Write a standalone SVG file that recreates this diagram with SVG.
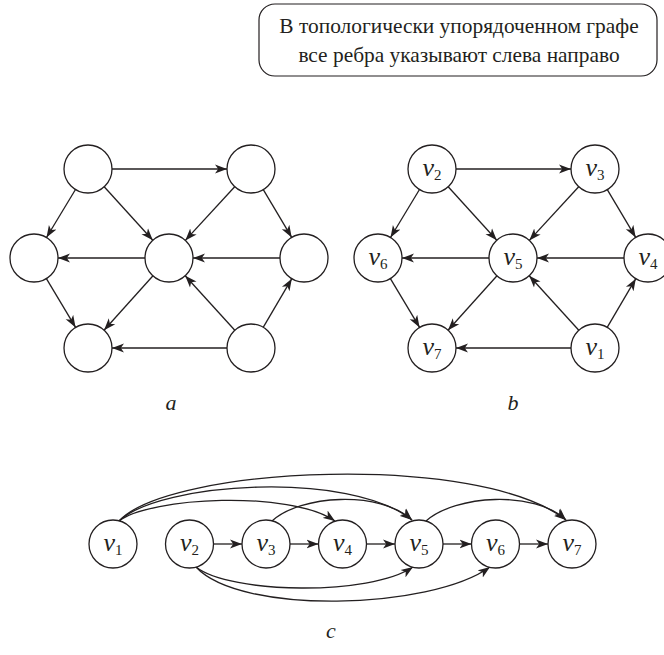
<svg xmlns="http://www.w3.org/2000/svg" width="664" height="655" viewBox="0 0 664 655">
  <style>
    .node { fill: #ffffff; stroke: #231f20; stroke-width: 1.3; }
    .edge { fill: none; stroke: #231f20; stroke-width: 1.3; marker-end: url(#ah); }
    .box { fill: #ffffff; stroke: #231f20; stroke-width: 1.2; }
    text { font-family: 'Liberation Serif', 'DejaVu Serif', serif; fill: #231f20; text-anchor: middle; }
    .note { font-size: 21.4px; }
    .lbl { font-size: 26px; }
    .lbl .v { font-style: italic; }
    .lbl .s { font-size: 15px; }
    .cap { font-size: 22px; font-style: italic; }
  </style>
  <defs>
    <marker id="ah" viewBox="0 0 13 10" markerWidth="13" markerHeight="10" refX="12" refY="5" orient="auto" markerUnits="userSpaceOnUse">
      <path d="M0,0.6 L12,5 L0,9.4 L3.2,5 z" fill="#231f20"/>
    </marker>
  </defs>

  <rect width="664" height="655" fill="#ffffff"/>

  <!-- callout -->
  <g id="note">
    <rect class="box" x="259" y="4" width="398" height="72" rx="16" ry="16"/>
    <text class="note" x="459" y="33">В топологически упорядоченном графе</text>
    <text class="note" x="459" y="62">все ребра указывают слева направо</text>
  </g>

  <!-- panel a: connectors -->
  <g id="edges-a">
    <path class="edge" d="M112,169 L227,169"/>
    <path class="edge" d="M75.5,189.5 L46.5,237.5"/>
    <path class="edge" d="M104.2,186.8 L152.8,240.2"/>
    <path class="edge" d="M234.7,186.7 L185.3,240.4"/>
    <path class="edge" d="M263.3,189.6 L291.7,237.4"/>
    <path class="edge" d="M145,258 L58,258"/>
    <path class="edge" d="M280,258 L193,258"/>
    <path class="edge" d="M46.4,278.6 L75.6,327.4"/>
    <path class="edge" d="M153,275.8 L104,330.2"/>
    <path class="edge" d="M234.8,330.3 L185.2,275.7"/>
    <path class="edge" d="M263.2,327.3 L291.8,278.7"/>
    <path class="edge" d="M227,348 L112,348"/>
  </g>
  <!-- panel a: nodes -->
  <g id="a-v2"><circle class="node" cx="88" cy="169" r="24"/></g>
  <g id="a-v3"><circle class="node" cx="251" cy="169" r="24"/></g>
  <g id="a-v6"><circle class="node" cx="34" cy="258" r="24"/></g>
  <g id="a-v5"><circle class="node" cx="169" cy="258" r="24"/></g>
  <g id="a-v4"><circle class="node" cx="304" cy="258" r="24"/></g>
  <g id="a-v7"><circle class="node" cx="88" cy="348" r="24"/></g>
  <g id="a-v1"><circle class="node" cx="251" cy="348" r="24"/></g>
  <text class="cap" x="171" y="410">a</text>

  <!-- panel b: connectors (same layout shifted right) -->
  <g id="edges-b" transform="translate(344,0)">
    <path class="edge" d="M112,169 L227,169"/>
    <path class="edge" d="M75.5,189.5 L46.5,237.5"/>
    <path class="edge" d="M104.2,186.8 L152.8,240.2"/>
    <path class="edge" d="M234.7,186.7 L185.3,240.4"/>
    <path class="edge" d="M263.3,189.6 L291.7,237.4"/>
    <path class="edge" d="M145,258 L58,258"/>
    <path class="edge" d="M280,258 L193,258"/>
    <path class="edge" d="M46.4,278.6 L75.6,327.4"/>
    <path class="edge" d="M153,275.8 L104,330.2"/>
    <path class="edge" d="M234.8,330.3 L185.2,275.7"/>
    <path class="edge" d="M263.2,327.3 L291.8,278.7"/>
    <path class="edge" d="M227,348 L112,348"/>
  </g>
  <!-- panel b: nodes -->
  <g id="b-v2"><circle class="node" cx="432" cy="169" r="24"/><text class="lbl" x="432" y="176"><tspan class="v">v</tspan><tspan class="s" dy="4">2</tspan></text></g>
  <g id="b-v3"><circle class="node" cx="595" cy="169" r="24"/><text class="lbl" x="595" y="176"><tspan class="v">v</tspan><tspan class="s" dy="4">3</tspan></text></g>
  <g id="b-v6"><circle class="node" cx="378" cy="258" r="24"/><text class="lbl" x="378" y="265"><tspan class="v">v</tspan><tspan class="s" dy="4">6</tspan></text></g>
  <g id="b-v5"><circle class="node" cx="513" cy="258" r="24"/><text class="lbl" x="513" y="265"><tspan class="v">v</tspan><tspan class="s" dy="4">5</tspan></text></g>
  <g id="b-v4"><circle class="node" cx="648" cy="258" r="24"/><text class="lbl" x="648" y="265"><tspan class="v">v</tspan><tspan class="s" dy="4">4</tspan></text></g>
  <g id="b-v7"><circle class="node" cx="432" cy="348" r="24"/><text class="lbl" x="432" y="355"><tspan class="v">v</tspan><tspan class="s" dy="4">7</tspan></text></g>
  <g id="b-v1"><circle class="node" cx="595" cy="348" r="24"/><text class="lbl" x="595" y="355"><tspan class="v">v</tspan><tspan class="s" dy="4">1</tspan></text></g>
  <text class="cap" x="513" y="410">b</text>

  <!-- panel c: connectors -->
  <g id="edges-c">
    <path class="edge" d="M213.5,544 L242,544"/>
    <path class="edge" d="M290,544 L318.5,544"/>
    <path class="edge" d="M366.5,544 L395,544"/>
    <path class="edge" d="M443,544 L471.5,544"/>
    <path class="edge" d="M519.5,544 L548,544"/>
    <path class="edge" d="M119,521 C150,497 290,490 335,521"/>
    <path class="edge" d="M119,521 C160,482 350,470 412,520"/>
    <path class="edge" d="M119,521 C170,466 480,452 566,520"/>
    <path class="edge" d="M272,521 C300,495 380,490 412,520"/>
    <path class="edge" d="M426,521 C455,495 535,490 566,520"/>
    <path class="edge" d="M196,567 C230,594 370,596 413,567"/>
    <path class="edge" d="M196,567 C240,615 430,610 490,567"/>
  </g>
  <!-- panel c: nodes -->
  <g id="c-v1"><circle class="node" cx="113" cy="544" r="24"/><text class="lbl" x="113" y="551"><tspan class="v">v</tspan><tspan class="s" dy="4">1</tspan></text></g>
  <g id="c-v2"><circle class="node" cx="189.5" cy="544" r="24"/><text class="lbl" x="189.5" y="551"><tspan class="v">v</tspan><tspan class="s" dy="4">2</tspan></text></g>
  <g id="c-v3"><circle class="node" cx="266" cy="544" r="24"/><text class="lbl" x="266" y="551"><tspan class="v">v</tspan><tspan class="s" dy="4">3</tspan></text></g>
  <g id="c-v4"><circle class="node" cx="342.5" cy="544" r="24"/><text class="lbl" x="342.5" y="551"><tspan class="v">v</tspan><tspan class="s" dy="4">4</tspan></text></g>
  <g id="c-v5"><circle class="node" cx="419" cy="544" r="24"/><text class="lbl" x="419" y="551"><tspan class="v">v</tspan><tspan class="s" dy="4">5</tspan></text></g>
  <g id="c-v6"><circle class="node" cx="495.5" cy="544" r="24"/><text class="lbl" x="495.5" y="551"><tspan class="v">v</tspan><tspan class="s" dy="4">6</tspan></text></g>
  <g id="c-v7"><circle class="node" cx="572" cy="544" r="24"/><text class="lbl" x="572" y="551"><tspan class="v">v</tspan><tspan class="s" dy="4">7</tspan></text></g>
  <text class="cap" x="331" y="638">c</text>
</svg>
